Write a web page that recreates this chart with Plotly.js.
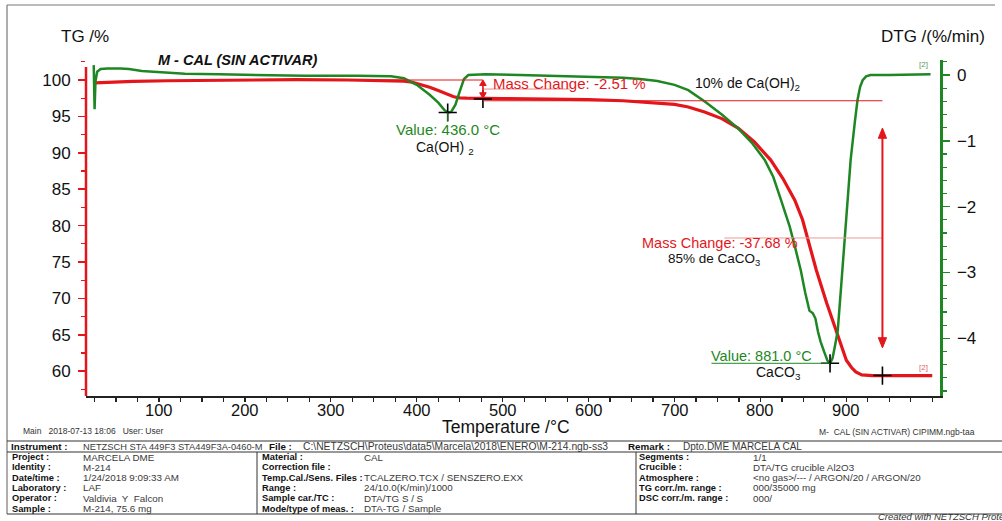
<!DOCTYPE html>
<html><head><meta charset="utf-8">
<script src="https://cdn.plot.ly/plotly-3.0.1.min.js"></script>
<style>html,body{margin:0;padding:0;background:#fff;} #chart{width:1002px;height:521px;}</style>
</head><body><div id="chart"></div>
<script>
// ---------------- data ----------------
const tgTemp  = [25, 40, 70, 110, 150, 200, 260, 320, 370, 385, 395, 405, 415, 425, 435, 443, 450, 458, 500, 550, 600, 640, 670, 700, 716, 735, 755, 774, 793, 812, 826, 840, 849, 857, 865, 877, 884, 890, 900, 906, 911, 918, 930, 1000];
const tgValue = [99.6, 99.7, 99.8, 99.9, 99.95, 100.02, 100.05, 100.0, 99.95, 99.85, 99.7, 99.4, 99.0, 98.55, 98.05, 97.7, 97.55, 97.5, 97.45, 97.4, 97.3, 97.15, 96.95, 96.65, 96.3, 95.6, 94.7, 93.4, 91.5, 89.0, 86.5, 83.5, 80.8, 77.5, 73.9, 69.4, 67.0, 64.7, 61.5, 60.5, 59.9, 59.5, 59.4, 59.4];

const dtgTemp  = [24, 25, 26, 28, 32, 40, 55, 65, 80, 100, 130, 170, 220, 270, 330, 370, 385, 400, 415, 425, 432, 436, 440, 445, 450, 455, 460, 480, 520, 560, 600, 640, 660, 680, 700, 716, 736, 755, 774, 790, 805, 815, 824, 834, 840, 847, 852, 857, 861, 864, 867, 870, 874, 878, 881, 884, 887, 890, 894, 899, 905, 910, 913, 916, 919, 923, 928, 950, 975, 998];
const dtgValue = [0.15, -0.52, -0.1, 0.05, 0.09, 0.1, 0.1, 0.09, 0.06, 0.04, 0.02, 0.01, 0.0, -0.01, -0.01, -0.02, -0.05, -0.15, -0.3, -0.42, -0.53, -0.57, -0.56, -0.45, -0.25, -0.06, 0.0, 0.01, 0.0, -0.01, -0.02, -0.04, -0.06, -0.09, -0.15, -0.23, -0.41, -0.6, -0.81, -1.03, -1.29, -1.55, -1.9, -2.3, -2.6, -2.97, -3.3, -3.58, -3.62, -3.7, -3.9, -4.05, -4.2, -4.34, -4.38, -4.3, -4.1, -3.88, -3.2, -2.3, -1.29, -0.7, -0.38, -0.18, -0.08, -0.02, 0.0, 0.0, 0.0, 0.01];

const xTickVals = [100, 200, 300, 400, 500, 600, 700, 800, 900];

// evaluation marks
const step1Temp = 477, step1Top = 100.0, step1Bottom = 97.4;   // Mass Change -2.51 %
const step2Temp = 942, step2Top = 97.15, step2Bottom = 59.4;   // Mass Change -37.68 %
const arrow2Top = 93.4, arrow2Bottom = 63.2;
const peak1Temp = 436, peak1Value = -0.57;                     // DTG peak Ca(OH)2
const peak2Temp = 881, peak2Value = -4.38;                     // DTG peak CaCO3

const RED = '#e3161c', GREEN = '#1e8723';

// ---------------- pixel -> paper helpers (layout only) ----------------
const L = 86, R = 940, T = 60, B = 396;
const px = x => (x - L) / (R - L);
const py = y => (B - y) / (B - T);

const FONT = 'Liberation Sans, Arial, sans-serif';

const traces = [
  {x: tgTemp, y: tgValue, type: 'scatter', mode: 'lines', line: {color: RED, width: 3.2}, yaxis: 'y', hoverinfo: 'skip'},
  {x: dtgTemp, y: dtgValue, type: 'scatter', mode: 'lines', line: {color: GREEN, width: 2.5}, yaxis: 'y2', hoverinfo: 'skip'},
  {x: [step1Temp, step2Temp], y: [step1Bottom, step2Bottom], type: 'scatter', mode: 'markers', yaxis: 'y',
   marker: {symbol: 'cross-thin', size: 13, line: {color: '#000', width: 1.6}}, hoverinfo: 'skip'},
  {x: [peak1Temp, peak2Temp], y: [peak1Value, peak2Value], type: 'scatter', mode: 'markers', yaxis: 'y2',
   marker: {symbol: 'cross-thin', size: 13, line: {color: '#000', width: 1.6}}, hoverinfo: 'skip'}
];

const shapes = [];
function lineD(x0, y0, x1, y1, color, w, yref) {
  shapes.push({type: 'line', xref: 'x', yref: yref || 'y', x0, y0, x1, y1, line: {color, width: w}});
}
function lineP(x0, y0, x1, y1, color, w) {
  shapes.push({type: 'line', xref: 'paper', yref: 'paper', x0: px(x0), y0: py(y0), x1: px(x1), y1: py(y1), line: {color, width: w}});
}
// double-headed vertical arrow in data units (heads sized in data units)
function dblArrow(x, yTop, yBot, hl, hw, color, w) {
  lineD(x, yTop - hl * 0.5, x, yBot + hl * 0.5, color, w);
  shapes.push({type: 'path', xref: 'x', yref: 'y', fillcolor: color, line: {color, width: 1},
    path: `M ${x - hw},${yTop - hl} L ${x},${yTop} L ${x + hw},${yTop - hl} Z`});
  shapes.push({type: 'path', xref: 'x', yref: 'y', fillcolor: color, line: {color, width: 1},
    path: `M ${x - hw},${yBot + hl} L ${x},${yBot} L ${x + hw},${yBot + hl} Z`});
}
// red TG axis line (starts a little below the top of the plot area)
lineP(L, 67, L, B, RED, 2.5);
// evaluation lines
lineD(330, step1Top, step1Temp, step1Top, RED, 1.2);
lineD(step1Temp, step2Top, step2Temp, step2Top, RED, 1.2);
lineD(step1Temp, 98.76, 578, 98.76, '#e88', 1);
lineD(758, 78.3, step2Temp, 78.3, '#e99', 1);
lineD(743, peak2Value, peak2Temp, peak2Value, GREEN, 1, 'y2');
lineD(peak1Temp, peak1Value, peak1Temp, -0.70, GREEN, 1, 'y2');
dblArrow(step1Temp, step1Top, step1Bottom + 0.1, 0.75, 3.8, RED, 1.6);
dblArrow(step2Temp, arrow2Top, arrow2Bottom, 1.4, 4.8, RED, 2);
// frame and table
const G = '#777';
lineP(7, 5, 995, 5, G, 1.2);
lineP(7, 5, 7, 514, G, 1.2);
lineP(7, 441, 1002, 441, '#333', 1);
lineP(7, 452, 1002, 452, '#333', 1);
lineP(7, 514, 1002, 514, '#333', 1);
lineP(257, 452, 257, 514, '#333', 1);
lineP(636, 452, 636, 514, '#333', 1);

const ann = [];
function txt(text, x, y, size, color, opts) {
  ann.push(Object.assign({text, xref: 'paper', yref: 'paper', x: px(x), y: py(y), xanchor: 'left', yanchor: 'middle',
    showarrow: false, font: {family: FONT, size, color}, borderpad: 0}, opts || {}));
}
// x tick labels, placed at the tick values on the x axis
xTickVals.forEach(v => ann.push({text: String(v), xref: 'x', yref: 'paper', x: v, y: py(409.5), xanchor: 'center', yanchor: 'middle',
  showarrow: false, font: {family: FONT, size: 16.5, color: '#111'}, borderpad: 0}));

txt('TG /%', 60, 36, 17, '#111');
txt('DTG /(%/min)', 880, 36, 17, '#111');
txt('<b><i>M - CAL (SIN ACTIVAR)</i></b>', 157, 60, 14.5, '#111');
txt('Mass Change: -2.51 %', 492, 83, 15, RED);
txt('10% de Ca(OH)<sub>2</sub>', 694, 84, 14, '#111');
txt('Value: 436.0 °C', 395, 129, 15, GREEN);
txt('Ca(OH) <sub>2</sub>', 415, 148, 14, '#111');
txt('Mass Change: -37.68 %', 641, 243, 14.5, RED);
txt('85% de CaCO<sub>3</sub>', 667, 259.5, 13.5, '#111');
txt('Value: 881.0 °C', 710, 356, 14.5, GREEN);
txt('CaCO<sub>3</sub>', 755, 373, 14, '#111');
txt('[2]', 918, 65, 8, '#5a9a5a');
txt('[2]', 918, 367, 8, '#d66');
txt('Temperature /°C', 441, 426.5, 17.5, '#111');
txt('Main&nbsp;&nbsp;&nbsp;2018-07-13 18:06&nbsp;&nbsp;&nbsp;User: User', 22, 431, 8.5, '#333');
txt('M-&nbsp;&nbsp;CAL (SIN ACTIVAR) CIPIMM.ngb-taa', 818, 432, 8.5, '#333');

// table
const TL = 9.3, TV = 9.8, TC = '#111', VC = '#3a3a3a';
const instrLabels = [['Instrument :', 10], ['File :', 268], ['Remark :', 627]];
const instrValues = [['NETZSCH STA 449F3 STA449F3A-0460-M', 82, 9.3], ['C:\\NETZSCH\\Proteus\\data5\\Marcela\\2018\\ENERO\\M-214.ngb-ss3', 302, 10.3], ['Dpto.DME MARCELA CAL', 682, 10]];
const colLeftLabels  = ['Project :', 'Identity :', 'Date/time :', 'Laboratory :', 'Operator :', 'Sample :'];
const colLeftValues  = ['MARCELA DME', 'M-214', '1/24/2018 9:09:33 AM', 'LAF', 'Valdivia&nbsp; Y&nbsp; Falcon', 'M-214, 75.6 mg'];
const colMidLabels   = ['Material :', 'Correction file :', 'Temp.Cal./Sens. Files :', 'Range :', 'Sample car./TC :', 'Mode/type of meas. :'];
const colMidValues   = ['CAL', '', 'TCALZERO.TCX / SENSZERO.EXX', '24/10.0(K/min)/1000', 'DTA/TG S / S', 'DTA-TG / Sample'];
const colRightLabels = ['Segments :', 'Crucible :', 'Atmosphere :', 'TG corr./m. range :', 'DSC corr./m. range :'];
const colRightValues = ['1/1', 'DTA/TG crucible Al2O3', '&lt;no gas&gt;/--- / ARGON/20 / ARGON/20', '000/35000 mg', '000/'];

instrLabels.forEach(([t, x]) => txt('<b>' + t + '</b>', x, 446.5, TL + 0.5, TC));
instrValues.forEach(([t, x, s]) => txt(t, x, 446.5, s, VC));
const rowY = [457, 467.3, 477.6, 487.9, 498.2, 508.5];
colLeftLabels.forEach((t, i) => txt('<b>' + t + '</b>', 11, rowY[i], TL, TC));
colLeftValues.forEach((t, i) => txt(t, 82, rowY[i], TV, VC));
colMidLabels.forEach((t, i) => txt('<b>' + t + '</b>', 261, rowY[i], TL, TC));
colMidValues.forEach((t, i) => { if (t) txt(t, 363, rowY[i], TV, VC); });
colRightLabels.forEach((t, i) => txt('<b>' + t + '</b>', 638, rowY[i], TL, TC));
colRightValues.forEach((t, i) => txt(t, 752, rowY[i], TV, VC));
txt('<i>Created with NETZSCH Proteus software</i>', 877, 516, 9.5, '#333');

const layout = {
  width: 1002, height: 521,
  margin: {l: L, r: 1002 - R, t: T, b: 521 - B, pad: 0},
  paper_bgcolor: '#fff', plot_bgcolor: '#fff',
  showlegend: false,
  font: {family: FONT, color: '#111'},
  xaxis: {
    range: [15, 1009], tickmode: 'array', tickvals: xTickVals, showticklabels: false,
    showgrid: false, zeroline: false, showline: true, linecolor: '#222', linewidth: 1.5,
    ticks: '',
    minor: {tickmode: 'linear', tick0: 0, dtick: 25, ticks: 'outside', ticklen: 4, tickcolor: '#222', tickwidth: 1.2}
  },
  yaxis: {
    range: [56.59, 102.75], tickmode: 'linear', tick0: 60, dtick: 5,
    showgrid: false, zeroline: false, showline: false,
    ticks: 'outside', ticklen: 7, tickcolor: RED, tickwidth: 1.5,
    tickfont: {family: FONT, size: 17, color: '#111'}, ticklabelstandoff: 4,
    minor: {tickmode: 'linear', tick0: 0, dtick: 2.5, ticks: 'outside', ticklen: 4, tickcolor: RED, tickwidth: 1.2}
  },
  yaxis2: {
    range: [-4.877, 0.228], tickmode: 'linear', tick0: 0, dtick: 1,
    overlaying: 'y', side: 'right',
    showgrid: false, zeroline: false, showline: true, linecolor: GREEN, linewidth: 2.5,
    ticks: 'outside', ticklen: 7, tickcolor: GREEN, tickwidth: 1.5,
    tickfont: {family: FONT, size: 17, color: '#111'}, ticklabelstandoff: 4,
    minor: {tickmode: 'linear', tick0: 0, dtick: 0.2, ticks: 'outside', ticklen: 4, tickcolor: GREEN, tickwidth: 1.2}
  },
  shapes, annotations: ann
};

Plotly.newPlot('chart', traces, layout, {staticPlot: true, displayModeBar: false});
</script>
</body></html>
